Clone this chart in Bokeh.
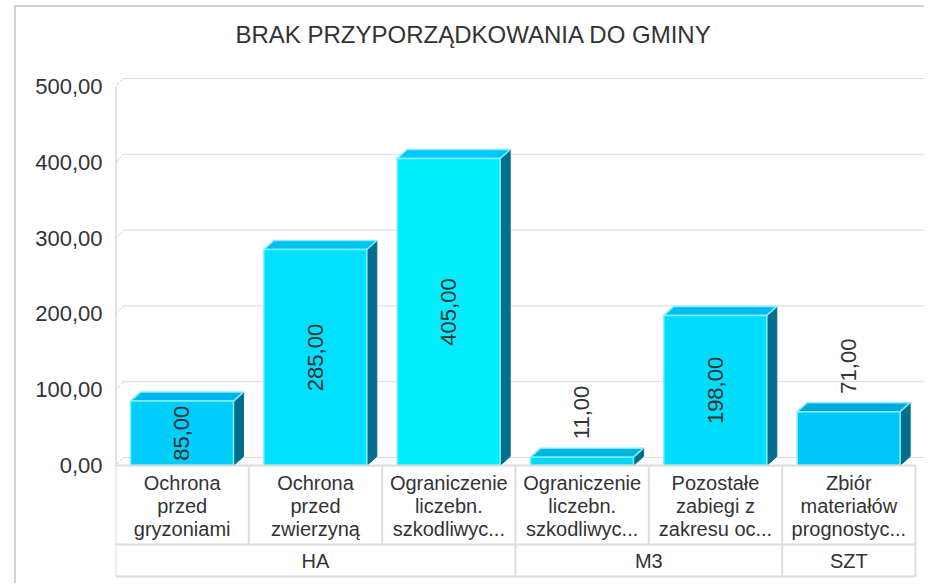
import math
from bokeh.plotting import figure
from bokeh.models import Range1d, FixedTicker, ColumnDataSource
from bokeh.core.properties import value
from bokeh.embed import file_html
from bokeh.resources import INLINE

# ---------------- data ----------------
chart_title = "BRAK PRZYPORZĄDKOWANIA DO GMINY"
categories = [
    "Ochrona\nprzed\ngryzoniami",
    "Ochrona\nprzed\nzwierzyną",
    "Ograniczenie\nliczebn.\nszkodliwyc...",
    "Ograniczenie\nliczebn.\nszkodliwyc...",
    "Pozostałe\nzabiegi z\nzakresu oc...",
    "Zbiór\nmateriałów\nprognostyc...",
]
groups = ["HA", "HA", "HA", "M3", "M3", "SZT"]
values = [85.0, 285.0, 405.0, 11.0, 198.0, 71.0]
tick_values = [0, 100, 200, 300, 400, 500]
tick_labels = ["0,00", "100,00", "200,00", "300,00", "400,00", "500,00"]

# ---------------- style ----------------
front_colors = ["#00cdf9", "#00dffd", "#00ecff", "#00d8f7", "#00dcfb", "#00c8f6"]
top_colors = ["#00b6ea", "#00c2f0", "#00c6f6", "#00b4e6", "#00bcee", "#00a8dc"]
side_color = "#006e8c"
edge_color = "#80f0ff"
text_color = "#333333"
grid_color = "#b4b4b4"
table_color = "#dcdcdc"
FONT = "Liberation Sans"

# canvas origin on the page (after css margin + border)
OX, OY = 16, 7
W, H = 910, 578
FRAME_L, FRAME_R, FRAME_T, FRAME_B = 115, 925, 51, 578   # page coords
BL, BR = FRAME_L - OX, OX + W - FRAME_R
BT, BB = FRAME_T - OY, OY + H - FRAME_B
FW, FH = W - BL - BR, H - BT - BB
CAT_PX = 133.33
PX_PER_UNIT = 0.758
ZERO_PX = 465 - FRAME_T  # distance of y=0 from frame top

x_end = FW / CAT_PX
y_end = ZERO_PX / PX_PER_UNIT
y_start = -(FH - ZERO_PX) / PX_PER_UNIT
ux = x_end / FW
uy = (y_end - y_start) / FH

p = figure(width=W, height=H, output_backend="svg", toolbar_location=None,
           x_range=Range1d(0, x_end), y_range=Range1d(y_start, y_end),
           min_border_left=BL, min_border_right=BR, min_border_top=BT,
           min_border_bottom=BB, tools="")
p.styles = {"margin-left": "14px", "margin-top": "5px", "border-radius": "0px",
            "border-left": "2px solid #d2d2d2", "border-top": "2px solid #d2d2d2"}
p.outline_line_color = None
p.background_fill_color = "white"
p.border_fill_color = "white"
p.xgrid.visible = False
p.ygrid.visible = False
p.xaxis.visible = False

p.title.text = chart_title
p.title.text_font = FONT
p.title.text_font_size = "24px"
p.title.text_font_style = "normal"
p.title.text_color = text_color
p.title.align = "left"
p.title.offset = 120
p.title.standoff = 8

yax = p.yaxis[0]
yax.ticker = FixedTicker(ticks=tick_values)
yax.major_label_overrides = {t: l for t, l in zip(tick_values, tick_labels)}
yax.major_label_text_font = FONT
yax.major_label_text_font_size = "22px"
yax.major_label_text_color = text_color
yax.major_label_standoff = 13
yax.major_tick_out = 0
yax.major_tick_in = 0
yax.minor_tick_out = 0
yax.minor_tick_in = 0
yax.major_tick_line_color = None
yax.minor_tick_line_color = None
yax.axis_line_color = None

# ---------------- back-wall grid (3D offset) ----------------
gdx, gdy = 8 * ux, 8 * uy
nt = len(tick_values)
p.segment(x0=[0] * nt, y0=tick_values, x1=[gdx] * nt, y1=[t + gdy for t in tick_values],
          line_color=grid_color, line_width=1, line_dash="1 1")
p.segment(x0=[gdx] * nt, y0=[t + gdy for t in tick_values],
          x1=[x_end] * nt, y1=[t + gdy for t in tick_values],
          line_color=grid_color, line_width=1, line_dash="1 1")
# left axis wall line
p.segment(x0=[0], y0=[0], x1=[0], y1=[max(tick_values)],
          line_color="#c8c8c8", line_width=2)

# ---------------- 3D bars ----------------
n = len(values)
x0s = [i + 0.1125 for i in range(n)]
x1s = [i + 0.885 for i in range(n)]
bdx, bdy = 10 * ux, 9 * uy

side_xs = [[b, b + bdx, b + bdx, b] for b in x1s]
side_ys = [[0, bdy, v + bdy, v] for v in values]
top_xs = [[a, a + bdx, b + bdx, b] for a, b in zip(x0s, x1s)]
top_ys = [[v, v + bdy, v + bdy, v] for v in values]

p.patches(xs=side_xs, ys=side_ys, fill_color=side_color, line_color=side_color, line_width=1)
p.patches(xs=top_xs, ys=top_ys, fill_color=top_colors, line_color=edge_color, line_width=1.5)
p.quad(left=x0s, right=x1s, bottom=[0] * n, top=values,
       fill_color=front_colors, line_color=edge_color, line_width=1.5)

# ---------------- value labels ----------------
LBL_PX = 22
lab_text = [f"{v:.2f}".replace(".", ",") for v in values]
lab_x = [(a + b) / 2 for a, b in zip(x0s, x1s)]
in_x, in_y, in_t, out_x, out_y, out_t = [], [], [], [], [], []
for x, v, t in zip(lab_x, values, lab_text):
    text_len_px = len(t) * 0.53 * LBL_PX
    if v / uy > text_len_px + 6:
        in_x.append(x); in_y.append(v / 2); in_t.append(t)
    else:
        out_x.append(x); out_y.append(v + bdy + 9 * uy); out_t.append(t)
p.text(x=in_x, y=in_y, text=in_t, angle=math.pi / 2, text_align="center",
       text_baseline="middle", text_font=value(FONT), text_font_size=f"{LBL_PX}px",
       text_color=text_color)
p.text(x=out_x, y=out_y, text=out_t, angle=math.pi / 2, text_align="left",
       text_baseline="middle", text_font=value(FONT), text_font_size=f"{LBL_PX}px",
       text_color=text_color)

# ---------------- category table ----------------
r1 = -79 * uy
r2 = -111 * uy
p.segment(x0=[0, 0, 0], y0=[0, r1, r2], x1=[n, n, n], y1=[0, r1, r2],
          line_color=table_color, line_width=2)
p.segment(x0=list(range(n + 1)), y0=[0] * (n + 1), x1=list(range(n + 1)), y1=[r1] * (n + 1),
          line_color=table_color, line_width=2)
spans = []
for i, g in enumerate(groups):
    if spans and spans[-1][0] == g:
        spans[-1][2] = i + 1
    else:
        spans.append([g, i, i + 1])
bounds = sorted(set([s[1] for s in spans] + [s[2] for s in spans]))
p.segment(x0=bounds, y0=[r1] * len(bounds), x1=bounds, y1=[r2] * len(bounds),
          line_color=table_color, line_width=2)

LINE_H = 23.3
cx, cy, ct, co = [], [], [], []
for i, c in enumerate(categories):
    lines = c.split("\n")
    k = len(lines)
    for j, ln in enumerate(lines):
        cx.append(i + 0.5); cy.append(r1 / 2); ct.append(ln)
        co.append((j - (k - 1) / 2) * LINE_H + 1)
src = ColumnDataSource(dict(x=cx, y=cy, t=ct, o=co))
p.text(x="x", y="y", text="t", y_offset="o", source=src, text_align="center",
       text_baseline="middle", text_font=value(FONT), text_font_size="20px",
       text_color=text_color)

p.text(x=[(s[1] + s[2]) / 2 for s in spans], y=[(r1 + r2) / 2] * len(spans),
       text=[s[0] for s in spans], text_align="center", text_baseline="middle",
       text_font=value(FONT), text_font_size="20px", text_color=text_color)

open("out.html", "w").write(file_html(p, INLINE))
